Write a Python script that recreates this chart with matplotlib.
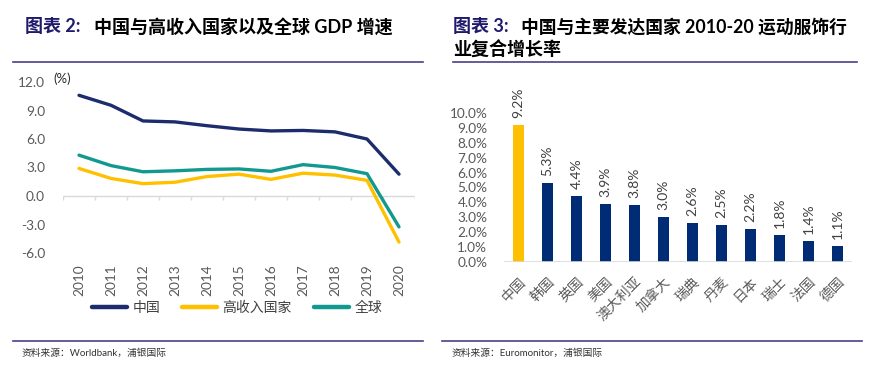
import matplotlib
matplotlib.use("Agg")
import matplotlib.pyplot as plt
import numpy as np
from matplotlib.lines import Line2D

plt.rcParams['font.family'] = ['Lato', 'Noto Sans CJK SC', 'DejaVu Sans']

# ---------------- data ----------------
years = ['2010', '2011', '2012', '2013', '2014', '2015', '2016', '2017', '2018', '2019', '2020']
china_gdp = [10.6, 9.55, 7.9, 7.8, 7.4, 7.05, 6.85, 6.9, 6.75, 6.0, 2.3]
high_income_gdp = [2.9, 1.85, 1.3, 1.45, 2.05, 2.3, 1.75, 2.4, 2.2, 1.65, -4.85]
world_gdp = [4.3, 3.2, 2.55, 2.65, 2.8, 2.85, 2.6, 3.3, 3.0, 2.35, -3.25]
series_names = ['中国', '高收入国家', '全球']
y_ticks_left = [-6.0, -3.0, 0.0, 3.0, 6.0, 9.0, 12.0]

countries = ['中国', '韩国', '英国', '美国', '澳大利亚', '加拿大', '瑞典', '丹麦', '日本', '瑞士', '法国', '德国']
cagr = [9.2, 5.3, 4.4, 3.9, 3.8, 3.0, 2.6, 2.5, 2.2, 1.8, 1.4, 1.1]
y_ticks_right = list(range(0, 11))

title_left_prefix = '图表 2:'
title_left = '中国与高收入国家以及全球 GDP 增速'
title_right_prefix = '图表 3:'
title_right_1 = '中国与主要发达国家 2010-20 运动服饰行'
title_right_2 = '业复合增长率'
source_left = '资料来源：Worldbank，浦银国际'
source_right = '资料来源：Euromonitor，浦银国际'

# ---------------- style ----------------
NAVY = '#1C2C6C'
GOLD = '#FFC000'
TEAL = '#12998F'
BAR_NAVY = '#002B75'
TXT = '#595959'
RULE = '#4B3F8C'
TITLE_NAVY = '#1F1A6B'

W, H = 870, 387
fig = plt.figure(figsize=(W / 100, H / 100), dpi=100)

def fx(px):
    return px / W

def fy(py):
    return 1 - py / H

# ---------------- titles and rules ----------------
fig.text(fx(25), fy(27), title_left_prefix, fontsize=13, fontweight='bold',
         color=TITLE_NAVY, va='center', ha='left')
fig.text(fx(94), fy(27), title_left, fontsize=13, fontweight='bold',
         color='black', va='center', ha='left')
fig.text(fx(453), fy(27), title_right_prefix, fontsize=13, fontweight='bold',
         color=TITLE_NAVY, va='center', ha='left')
fig.text(fx(521), fy(27), title_right_1, fontsize=12.8, fontweight='bold',
         color='black', va='center', ha='left')
fig.text(fx(453), fy(50), title_right_2, fontsize=13, fontweight='bold',
         color='black', va='center', ha='left')

fig.add_artist(Line2D([fx(13), fx(423)], [fy(61.5), fy(61.5)], color=RULE, lw=1.2))
fig.add_artist(Line2D([fx(453), fx(857)], [fy(61.5), fy(61.5)], color=RULE, lw=1.2))
fig.add_artist(Line2D([fx(13), fx(423)], [fy(341), fy(341)], color=RULE, lw=1.2))
fig.add_artist(Line2D([fx(442), fx(862)], [fy(341), fy(341)], color=RULE, lw=1.2))
fig.text(fx(22), fy(353), source_left, fontsize=7, color='#333333', va='center', ha='left')
fig.text(fx(452), fy(353), source_right, fontsize=7, color='#333333', va='center', ha='left')

# ---------------- left chart ----------------
axL = fig.add_axes([fx(63), fy(253), fx(415) - fx(63), fy(82) - fy(253)])
x = np.arange(len(years))
axL.plot(x, china_gdp, color=NAVY, lw=2.4, label=series_names[0], solid_capstyle='round')
axL.plot(x, high_income_gdp, color=GOLD, lw=2.4, label=series_names[1], solid_capstyle='round')
axL.plot(x, world_gdp, color=TEAL, lw=2.4, label=series_names[2], solid_capstyle='round')
axL.set_xlim(-0.5, len(years) - 0.5)
axL.set_ylim(-6, 12)
axL.set_yticks(y_ticks_left)
axL.set_yticklabels([f'{v:.1f}' for v in y_ticks_left])
axL.set_xticks(x)
axL.set_xticklabels(years, rotation=90)
for s in axL.spines.values():
    s.set_visible(False)
axL.tick_params(axis='both', length=0, labelsize=9.8, colors=TXT)
axL.tick_params(axis='x', pad=8)
axL.tick_params(axis='y', pad=13)
axL.axhline(0, color='#D9D9D9', lw=1, zorder=0)
bounds = np.arange(len(years) + 1) - 0.5
axL.vlines(bounds, -0.45, 0, color='#D9D9D9', lw=1, zorder=0)
axL.text(fx(53), fy(79), '(%)', transform=fig.transFigure, fontsize=9.5, color='#262626',
         va='center', ha='left')
leg = axL.legend(loc='center', bbox_to_anchor=(fx(237), fy(308)),
                 bbox_transform=fig.transFigure, ncol=3, frameon=False,
                 handlelength=2.5, handletextpad=0.4, columnspacing=1.6,
                 prop={'family': ['Noto Sans CJK SC'], 'size': 10})
for lh in leg.get_lines():
    lh.set_linewidth(3.2)
for tx in leg.get_texts():
    tx.set_color('#404040')

# ---------------- right chart ----------------
axR = fig.add_axes([fx(504), fy(262), fx(852) - fx(504), fy(113) - fy(262)])
xr = np.arange(len(countries))
colors = [GOLD] + [BAR_NAVY] * (len(countries) - 1)
axR.bar(xr, cagr, width=0.36, color=colors, zorder=2)
axR.set_xlim(-0.5, len(countries) - 0.5)
axR.set_ylim(0, 10)
axR.set_yticks(y_ticks_right)
axR.set_yticklabels([f'{v:.1f}%' for v in y_ticks_right])
for s in axR.spines.values():
    s.set_visible(False)
axR.axhline(0, color='#D9D9D9', lw=1.2, zorder=3)
axR.tick_params(axis='both', length=0, colors=TXT)
axR.tick_params(axis='y', labelsize=9.8, pad=12)
axR.set_xticks(xr)
axR.set_xticklabels(countries, rotation=45, ha='right', va='top', rotation_mode='anchor',
                    fontsize=10, family=['Noto Sans CJK SC'])
axR.tick_params(axis='x', pad=9)
for xi, v in zip(xr, cagr):
    axR.annotate(f'{v:.1f}%', (xi, v), xytext=(0, 5), textcoords='offset points',
                 rotation=90, ha='center', va='bottom', fontsize=10, color='#404040',
                 annotation_clip=False)

fig.savefig('out.png', dpi=100)
